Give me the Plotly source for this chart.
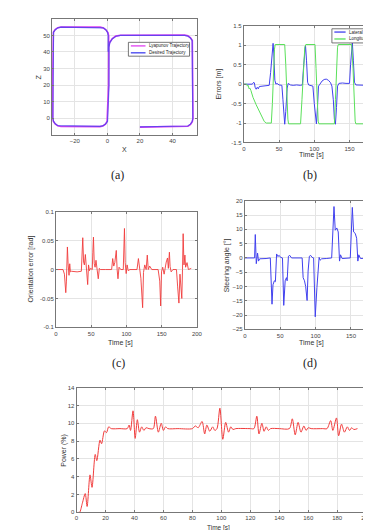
import plotly.graph_objects as go

W, H = 371, 530

# ---------------- data ----------------
# (a) trajectories (waypoints, corners included)
des_x = [20, 30, 40, 47.5, 49.4, 51.0, 52.1, 52.5, 52.5, 52.5, 52.1, 51.0, 49.4, 47.5, 30, 8, 5.3, 3.1, 1.5, 1.0, 1.0, 0.5, 0.1, -1.0, -2.6, -4.5, -15, -28.5, -30.4, -32.0, -33.1, -33.5, -33.5, -33.5, -33.1, -32.0, -30.4, -28.5, -15, -4.5, -2.6, -1.0, 0.1, 0.5, 0.5]
des_z = [-5.3, -5.25, -5.2, -5.2, -4.8, -3.7, -2.1, -0.2, 20, 45, 46.9, 48.5, 49.6, 50, 50, 50, 49.5, 48.0, 45.7, 43, 20, 0, -1.9, -3.5, -4.6, -5, -5, -5, -4.6, -3.5, -1.9, 0, 25, 50, 51.9, 53.5, 54.6, 55, 55, 55, 54.6, 53.5, 51.9, 50, 40]
lyap_x = [20, 30, 40, 47.5, 49.5, 51.1, 52.2, 52.6, 52.6, 52.6, 52.2, 51.1, 49.5, 47.5, 30, 8, 5.1, 2.9, 1.3, 0.8, 0.7, 0.2, -0.2, -1.2, -2.8, -4.6, -15, -28.5, -30.5, -32.1, -33.2, -33.6, -33.6, -33.6, -33.2, -32.1, -30.5, -28.5, -15, -4.4, -2.4, -0.8, 0.4, 0.8, 0.7]
lyap_z = [-5.5, -5.45, -5.4, -5.4, -5.0, -3.8, -2.2, -0.2, 20, 45, 47.0, 48.6, 49.8, 50.2, 50.2, 50.1, 49.6, 48.0, 45.5, 42.6, 20, 0, -2.0, -3.7, -4.8, -5.2, -5.2, -5.1, -4.7, -3.6, -2.0, 0, 25, 50, 52.0, 53.6, 54.7, 55.1, 55.1, 55, 54.5, 53.3, 51.6, 49.6, 40]

# (b) errors
lat_t = [0, 12, 14, 15, 16, 17.5, 19, 20.5, 22, 25, 30, 36, 38, 40, 41.5, 42.5, 44, 45.5, 47, 50, 54, 55.5, 57, 58, 59.5, 61.5, 63, 66, 70, 75, 80, 83, 85, 86.5, 87.5, 89, 90.5, 92, 95, 98, 100, 102, 103, 104.5, 106, 108, 111, 114, 117, 120, 123, 125, 127, 128.5, 130, 131.5, 133, 135, 140, 145, 150, 151.5, 153, 154, 155.5, 157, 159, 165, 170, 175, 177, 179, 180.5, 182, 184, 190, 194]
lat_v = [0, 0, 0.05, 0.03, -0.08, -0.13, -0.08, -0.12, -0.06, -0.05, -0.04, -0.03, 0.3, 0.85, 1.05, 0.8, 0.1, 0.0, 0.02, -0.02, -0.03, -0.4, -0.95, -1.03, -0.7, -0.1, 0.02, -0.02, -0.03, -0.02, -0.03, -0.02, 0.5, 0.95, 1.0, 0.6, 0.05, -0.02, -0.03, -0.05, -0.5, -0.95, -1.02, -0.6, -0.05, 0.0, 0.08, 0.12, 0.13, 0.1, 0.04, -0.05, -0.4, -0.9, -1.03, -0.6, -0.05, 0.02, 0.03, 0.02, 0.02, 0.5, 1.0, 1.07, 0.6, 0.05, -0.02, -0.02, -0.03, -0.03, -0.5, -1.0, -1.03, -0.6, -0.05, -0.02, -0.02]
lon_t = [0, 4, 5, 6, 7.5, 8.5, 10, 13, 17.5, 21, 24.5, 29, 32, 39, 40.5, 42, 43.5, 44.5, 58, 59.5, 61, 62.5, 63.5, 80.5, 82.5, 84.5, 86.5, 88, 101, 102.5, 104, 105.5, 106.5, 128.5, 130, 131.5, 133, 134, 153, 155, 156.5, 158, 159, 179, 180.5, 182, 183.5, 185, 194]
lon_v = [0, 0, -0.05, -0.03, -0.12, -0.1, -0.16, -0.34, -0.53, -0.67, -0.79, -0.96, -1.0, -1.0, -0.5, 0.3, 0.9, 1.02, 1.02, 0.5, -0.3, -0.9, -1.02, -1.02, -0.4, 0.4, 0.95, 1.02, 1.02, 0.4, -0.5, -0.95, -1.02, -1.02, -0.4, 0.5, 0.95, 1.02, 1.02, 0.4, -0.5, -0.95, -1.02, -1.02, -0.4, 0.4, 0.9, 1.02, 1.02]

# (c) orientation error
ori_t = [0, 10, 12, 13.9, 14.8, 16.2, 17.2, 18.5, 19.5, 20.5, 22, 30, 36, 37.2, 38, 39.2, 40.3, 41.7, 43, 45, 46.2, 47.5, 49, 51.5, 52.3, 53.2, 54.3, 55.5, 56.8, 58, 60, 61.5, 63, 70, 79, 80.5, 82, 83.5, 85.6, 86.8, 88, 89.5, 92, 95.5, 96.3, 97.2, 98.2, 99.6, 101, 102.5, 105, 115, 117, 118.5, 120.5, 123, 124.2, 126, 128, 129.6, 131, 133, 136, 145, 147.3, 148.6, 149.8, 151.5, 153.5, 156.5, 158.3, 159.5, 161, 162, 163.5, 166, 171, 172.7, 174.5, 176, 177, 178.6, 179.6, 180.5, 181.7, 183, 184, 186, 188, 192]
ori_v = [0, 0, -0.008, -0.04, -0.02, 0.039, 0.01, -0.01, 0.01, -0.004, -0.003, -0.004, -0.003, 0.02, 0.055, 0.013, 0.008, 0.026, 0.005, -0.026, 0.008, -0.002, 0.002, 0.0, 0.03, 0.056, 0.01, 0.004, 0.016, 0.006, -0.016, 0.002, 0.0, 0.0, 0.0, 0.019, 0.006, 0.012, 0.033, 0.0, -0.016, 0.004, 0.0, 0.0, 0.03, 0.071, 0.012, -0.007, 0.008, -0.002, 0.0, 0.0, 0.019, 0.004, -0.015, -0.066, -0.005, 0.008, 0.0, 0.025, 0.0, 0.006, 0.0, 0.0, -0.02, -0.063, -0.004, 0.004, -0.008, 0.013, 0.02, 0.002, 0.03, 0.005, -0.004, 0.0, 0.0, -0.03, -0.058, -0.008, -0.02, -0.05, 0.0, 0.062, 0.008, 0.025, 0.004, 0.012, 0.0, 0.002, 0.0]

# (d) steering angle
st_t = [0, 13.8, 14.8, 16.2, 18, 19.3, 21, 25, 30, 36, 37.2, 38.4, 39.8, 41.7, 43.2, 44.9, 46.6, 48.6, 50.5, 53.2, 55, 57, 58.8, 59.8, 61.6, 63.5, 66, 75, 81, 82.4, 84.3, 86, 88, 89.4, 91.2, 93, 95, 97.2, 99.5, 101.9, 103.2, 105, 106.4, 108.5, 115, 122.7, 126, 127.8, 130, 132, 133.8, 135.2, 137.5, 145, 149, 151.9, 153.7, 156, 158, 159.7, 161, 163.5, 170, 175.5, 177.3, 178.6, 180, 181.5, 183]
st_v = [0, 0, 8.2, -2, 1.7, -1.1, -0.3, -0.3, -0.2, 0, -7, -16.2, -9.4, -8, -8.3, 1.4, 0.5, 0.9, 0.2, 0, -16.6, -8, -6.9, -8, 0.6, 0.9, 0, 0, 0, -6.9, -8, -10, -14.9, -4.6, 0.6, 0.9, 0.2, 0, -20.6, -10.3, -6.3, 0.2, -0.8, -0.3, -0.2, 0, 18, 9.7, 10.5, 9.1, -1.1, 1.1, -0.2, -0.2, 0, 17.7, 9.1, 8.6, 6.9, -1.1, 1.1, -0.2, -0.2, 0, 16.2, 12, 10.5, 11, 12]

# (e) power
pw_t = [1.5, 2.2, 4, 6, 7.3, 9.3, 10.7, 12.9, 14, 16.2, 17.3, 19.3, 20.7, 22.2, 24, 30, 35, 36.3, 37.3, 39, 40.5, 42, 43.5, 45, 46.5, 48, 50, 53, 54.5, 56.5, 58.5, 60, 61.5, 63, 70, 80, 82, 84, 86.7, 88.5, 90, 92, 94, 95.5, 97, 99, 101, 103, 105, 106.5, 108, 110, 120, 122.5, 124.5, 126, 128, 129.5, 131, 132.5, 134, 140, 147, 149, 151, 153, 155, 157, 158.5, 160, 162, 170, 173, 175.5, 177, 179.5, 181, 183, 185, 187, 188.5, 190, 191.5, 194]
pw_v = [0, 0, 1.0, 2.1, 0.65, 4.2, 2.8, 6.5, 5.8, 8.1, 7.7, 9.15, 8.95, 9.6, 9.4, 9.4, 9.4, 9.8, 9.2, 11.4, 8.3, 10.4, 9.0, 9.6, 9.2, 9.5, 9.4, 9.4, 10.8, 9.0, 10.0, 9.2, 9.6, 9.4, 9.4, 9.4, 9.7, 9.5, 10.2, 8.8, 9.8, 9.1, 9.6, 9.2, 9.4, 11.7, 8.2, 10.1, 9.0, 9.6, 9.3, 9.4, 9.4, 9.4, 10.8, 8.8, 10.0, 9.1, 9.6, 9.2, 9.4, 9.4, 9.4, 10.5, 8.7, 10.1, 9.0, 9.7, 9.2, 9.5, 9.4, 9.4, 9.4, 10.3, 9.2, 10.6, 8.6, 9.9, 9.0, 9.6, 9.2, 9.5, 9.3, 9.4]

# tick labels
a_xticks = [-20, 0, 20, 40]
a_yticks = [0, 10, 20, 30, 40, 50]
b_xticks = [0, 50, 100, 150]
b_yticks = [-1.5, -1, -0.5, 0, 0.5, 1, 1.5]
b_ytext = ["-1.5", "-1", "-0.5", "0", "0.5", "1", "1.5"]
c_xticks = [0, 50, 100, 150, 200]
c_yticks = [-0.1, -0.05, 0, 0.05, 0.1]
c_ytext = ["-0.1", "-0.05", "0", "0.05", "0.1"]
d_xticks = [0, 50, 100, 150]
d_yticks = [-25, -20, -15, -10, -5, 0, 5, 10, 15, 20]
e_xticks = list(range(0, 201, 20))
e_yticks = list(range(0, 15, 2))

names_a = ["Lyapunov Trajectory", "Desired Trajectory"]
names_b = ["Lateral error", "Longitudinal error"]

RED = "#f03c3c"
BLUE = "#4040ee"
GREEN = "#5ae05a"
MAG = "#e040f0"


def px(x):
    return x / W


def py(y):
    return 1 - y / H


fig = go.Figure()
fig.add_trace(go.Scatter(x=lyap_x, y=lyap_z, mode="lines", line=dict(color=MAG, width=1.6), xaxis="x", yaxis="y", name=names_a[0]))
fig.add_trace(go.Scatter(x=des_x, y=des_z, mode="lines", line=dict(color=BLUE, width=1.2), opacity=0.75, xaxis="x", yaxis="y", name=names_a[1]))
fig.add_trace(go.Scatter(x=lat_t, y=lat_v, mode="lines", line=dict(color=BLUE, width=1), xaxis="x2", yaxis="y2", name=names_b[0]))
fig.add_trace(go.Scatter(x=lon_t, y=lon_v, mode="lines", line=dict(color=GREEN, width=1), xaxis="x2", yaxis="y2", name=names_b[1]))
fig.add_trace(go.Scatter(x=ori_t, y=ori_v, mode="lines", line=dict(color=RED, width=0.9), xaxis="x3", yaxis="y3"))
fig.add_trace(go.Scatter(x=st_t, y=st_v, mode="lines", line=dict(color=BLUE, width=1), xaxis="x4", yaxis="y4"))
fig.add_trace(go.Scatter(x=pw_t, y=pw_v, mode="lines", line=dict(color=RED, width=1, shape="spline", smoothing=0.8), xaxis="x5", yaxis="y5"))

TICKFONT = dict(family="Liberation Sans", size=6, color="#444")


def ax(domain, rng, tickvals, ticktext=None, mirror="ticks", anchor=None):
    d = dict(domain=domain, range=rng, tickmode="array", tickvals=tickvals,
             showgrid=True, gridcolor="#e4e4e4", gridwidth=1, zeroline=False,
             showline=True, linecolor="#777", linewidth=1, mirror=mirror,
             ticks="inside", ticklen=2, tickcolor="#777", tickfont=TICKFONT,
             anchor=anchor, fixedrange=True)
    if ticktext is not None:
        d["ticktext"] = ticktext
    return d


fig.update_layout(
    width=W, height=H, margin=dict(l=0, r=0, t=0, b=0),
    plot_bgcolor="white", paper_bgcolor="white", showlegend=False,
    xaxis=ax([px(43), px(191)], [-34, 55], a_xticks, anchor="y"),
    yaxis=ax([py(125), py(8)], [-10, 60], a_yticks, anchor="x"),
    xaxis2=ax([px(239), 1.0], [0, (W - 239) / 0.72], b_xticks, anchor="y2"),
    yaxis2=ax([py(133), py(15)], [-1.5, 1.5], b_yticks, b_ytext, mirror=False, anchor="x2"),
    xaxis3=ax([px(47), px(191)], [0, 200], c_xticks, anchor="y3"),
    yaxis3=ax([py(320), py(203)], [-0.1, 0.1], c_yticks, c_ytext, anchor="x3"),
    xaxis4=ax([px(240), 1.0], [0, (W - 240) / 0.7233], d_xticks, anchor="y4"),
    yaxis4=ax([py(322), py(192)], [-25, 20], d_yticks, mirror=False, anchor="x4"),
    xaxis5=ax([px(68), px(364)], [0, 200], e_xticks, anchor="y5"),
    yaxis5=ax([py(507), py(381)], [0, 14], e_yticks, anchor="x5"),
)

LBL = dict(family="Liberation Sans", size=7, color="#333")
CAP = dict(family="Liberation Serif", size=12, color="#222")
ann = []


def text(x, y, t, font, angle=0, xanchor="center"):
    ann.append(dict(x=px(x), y=py(y), xref="paper", yref="paper", text=t, showarrow=False,
                    font=font, textangle=angle, xanchor=xanchor, yanchor="middle"))


text(117, 140, "X", LBL)
text(29, 67, "Z", LBL, -90)
text(308, 146, "Time [s]", LBL)
text(214, 74, "Errors [m]", LBL, -90)
text(113, 336, "Time [s]", LBL)
text(22, 261, "Orientation error [rad]", LBL, -90)
text(308, 336, "Time [s]", LBL)
text(222, 257, "Steering angle [°]", LBL, -90)
text(213, 522.5, "Time [s]", dict(family="Liberation Sans", size=6.5, color="#333"))
text(55, 444, "Power (%)", LBL, -90)
text(110, 166, "(a)", CAP)
text(307, 166, "(b)", CAP)
text(111, 356, "(c)", CAP)
text(307, 356, "(d)", CAP)

LEG = dict(family="Liberation Sans", size=4.5, color="#222")
shapes = []
# legend (a)
shapes.append(dict(type="rect", xref="paper", yref="paper", x0=px(121), x1=px(183.5), y0=py(45.7), y1=py(31.7), line=dict(color="#555", width=0.8), fillcolor="white", layer="above"))
shapes.append(dict(type="line", xref="paper", yref="paper", x0=px(123.5), x1=px(138.5), y0=py(35.3), y1=py(35.3), line=dict(color=MAG, width=1.3), layer="above"))
shapes.append(dict(type="line", xref="paper", yref="paper", x0=px(123.5), x1=px(138.5), y0=py(42.3), y1=py(42.3), line=dict(color=BLUE, width=1.3), layer="above"))
text(140, 35.3, names_a[0], LEG, xanchor="left")
text(140, 42.3, names_a[1], LEG, xanchor="left")
# legend (b)
shapes.append(dict(type="rect", xref="paper", yref="paper", x0=px(329), x1=px(390), y0=py(32.3), y1=py(18), line=dict(color="#555", width=0.8), fillcolor="white", layer="above"))
shapes.append(dict(type="line", xref="paper", yref="paper", x0=px(331.5), x1=px(343), y0=py(21.3), y1=py(21.3), line=dict(color=BLUE, width=1.3), layer="above"))
shapes.append(dict(type="line", xref="paper", yref="paper", x0=px(331.5), x1=px(343), y0=py(28.3), y1=py(28.3), line=dict(color=GREEN, width=1.3), layer="above"))
text(344.5, 21.3, names_b[0], LEG, xanchor="left")
text(344.5, 28.3, names_b[1], LEG, xanchor="left")

fig.update_layout(annotations=ann, shapes=shapes)
fig.write_html("out.html")
